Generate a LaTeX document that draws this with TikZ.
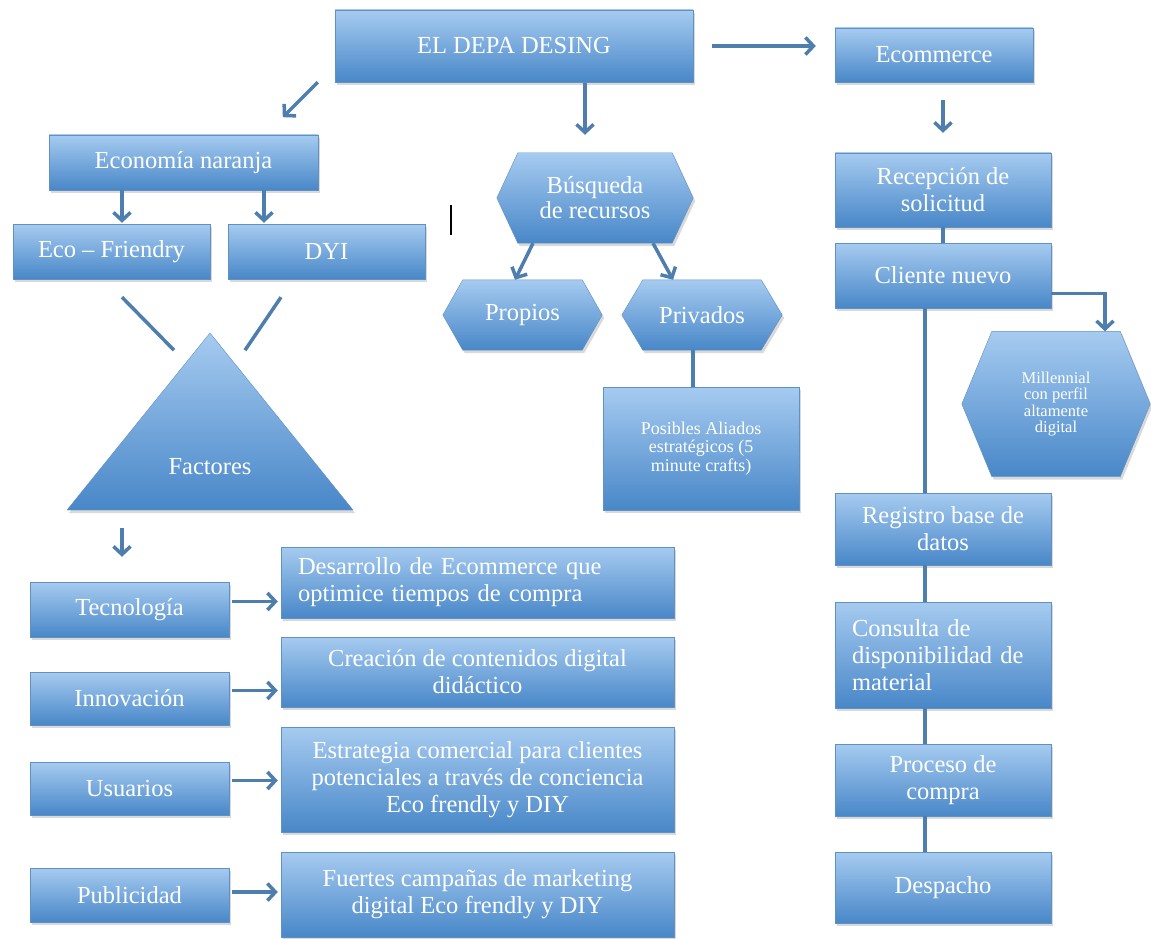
\documentclass[tikz,border=0pt]{standalone}
\usepackage{fontspec}
\setmainfont{Liberation Serif}
\usetikzlibrary{calc}
\usetikzlibrary{positioning}
\usetikzlibrary{arrows.meta}
\usetikzlibrary{backgrounds}
\usetikzlibrary{shadows}
\definecolor{cajaarriba}{RGB}{166,203,240}
\definecolor{cajaabajo}{RGB}{72,135,200}
\definecolor{borde}{RGB}{95,145,195}
\definecolor{flecha}{RGB}{78,126,174}

\begin{document}
\begin{tikzpicture}
  [
  x=1pt, y=-1pt,
  % 文字の設定
  every node/.style={text=white, inner sep=0, font=\fontsize{24.5}{27}\selectfont},
  % 矢印の設定
  arrow/.style={-{Straight Barb[length=8pt, width=17pt]}, line width=3.5pt, draw=flecha},
  % 矢印なしの線
  line/.style={line width=3.5pt, draw=flecha},
  % ブロック
  block/.style={rectangle, draw=borde, top color=cajaarriba, bottom color=cajaabajo,
  drop shadow={shadow xshift=2pt, shadow yshift=-3pt, opacity=0.3}},
  % 六角形（文字だけ，形は後で描く）
  hexa/.style={rectangle},
  hexfill/.style={draw=borde, top color=cajaarriba, bottom color=cajaabajo,
  drop shadow={shadow xshift=2pt, shadow yshift=-3pt, opacity=0.3}},
  % 小さい文字
  small/.style={font=\fontsize{18}{18.5}\selectfont}
  ]
  \useasboundingbox (0,0) rectangle (1151,939);

  % 上の段
  \node [block, minimum width=358pt, minimum height=72pt] (depa) at (514,46) {EL DEPA DESING};
  \node [block, minimum width=198pt, minimum height=54pt] (ecom) at (934,55) {Ecommerce};
  \node [block, minimum width=269pt, minimum height=55pt] (econ) at (183.5,162.5) {Economía naranja};
  \node [block, minimum width=197pt, minimum height=55pt] (ecof) at (111.5,251.5) {Eco – Friendry};
  \node [block, minimum width=197pt, minimum height=55pt] (dyi) at (326.5,251.5) {DYI};

  % 中央
  \node [hexa, minimum width=196pt, minimum height=90pt, align=center,
  font=\fontsize{24.5}{25}\selectfont] (busq) at (595,198) {Búsqueda\\de recursos};
  \node [hexa, minimum width=159pt, minimum height=70pt] (prop) at (522.5,315) {Propios};
  \node [hexa, minimum width=160pt, minimum height=70pt] (priv) at (702,315) {Privados};
  \node [block, small, minimum width=196pt, minimum height=123pt, align=center] (posi) at (701,448.5)
  {Posibles Aliados\\estratégicos (5\\minute crafts)};

  % 右の列
  \node [block, minimum width=216pt, minimum height=74pt, align=center] (recep) at (943,190) {Recepción de\\solicitud};
  \node [block, minimum width=216pt, minimum height=65pt] (clien) at (943,275.5) {Cliente nuevo};
  \node [hexa, minimum width=188pt, minimum height=145pt, align=center,
  font=\fontsize{16.5}{16.5}\selectfont] (mill) at (1056,404) {Millennial\\con perfil\\altamente\\digital};
  \node [block, minimum width=216pt, minimum height=72pt, align=center] (regis) at (943,529) {Registro base de\\datos};
  \node [block, minimum width=216pt, minimum height=106pt, text width=182pt, align=left] (consu) at (943,655)
  {Consulta de\\disponibilidad de\\material};
  \node [block, minimum width=216pt, minimum height=72pt, align=center] (proc) at (943,780) {Proceso de\\compra};
  \node [block, minimum width=216pt, minimum height=71pt] (desp) at (943,887.5) {Despacho};

  % 六角形
  \begin{pgfonlayer}{background}
    \foreach \n/\s in {busq/21, prop/20, priv/21, mill/30}
    \path [hexfill] (\n.west) -- ([xshift=\s pt]\n.north west) -- ([xshift=-\s pt]\n.north east)
    -- (\n.east) -- ([xshift=-\s pt]\n.south east) -- ([xshift=\s pt]\n.south west) -- cycle;
  \end{pgfonlayer}

  % 三角形
  \path [hexfill] (210,333) -- (353,510) -- (67,510) -- cycle;
  \node (fact) at (210,467) {Factores};
  \coordinate (fbase) at (122,510);

  % 下の段
  \node [block, minimum width=199pt, minimum height=55pt] (tec) at (129.5,609.5) {Tecnología};
  \node [block, minimum width=199pt, minimum height=53pt] (inno) at (129.5,698.5) {Innovación};
  \node [block, minimum width=199pt, minimum height=53pt] (usu) at (129.5,788.5) {Usuarios};
  \node [block, minimum width=199pt, minimum height=54pt] (pub) at (129.5,895) {Publicidad};
  \node [block, minimum width=393pt, minimum height=71pt, text width=359pt, align=left] (desa) at (477.5,582.5)
  {Desarrollo de Ecommerce que\\optimice tiempos de compra};
  \node [block, minimum width=393pt, minimum height=70pt, align=center] (crea) at (477.5,672)
  {Creación de contenidos digital\\didáctico};
  \node [block, minimum width=393pt, minimum height=105pt, align=center] (estr) at (477.5,779.5)
  {Estrategia comercial para clientes\\potenciales a través de conciencia\\Eco frendly y DIY};
  \node [block, minimum width=393pt, minimum height=85pt, align=center] (fuer) at (477.5,894.5)
  {Fuertes campañas de marketing\\digital Eco frendly y DIY};

  % 矢印
  \coordinate (dflecha) at (585,0);
  \draw [arrow, shorten <=19pt, shorten >=19pt] (depa.east) -- (depa.east -| ecom.west);
  \draw [arrow] ($(depa.south west)+(-17,0)$) -- +(-35,35);
  \draw [arrow, shorten <=1pt, shorten >=18pt] (depa.south -| dflecha) -- (dflecha |- busq.north);
  \draw [arrow, shorten >=1pt] ([xshift=-61.5pt]econ.south) -- ([xshift=-61.5pt]econ.south |- ecof.north);
  \draw [arrow, shorten >=1pt] ([xshift=80.5pt]econ.south) -- ([xshift=80.5pt]econ.south |- dyi.north);
  \draw [line] ($(ecof.south)+(10.5,18)$) -- +(52,53);
  \draw [line] ($(dyi.south)+(-45.5,18)$) -- +(-36,53);
  \draw [arrow] ([xshift=-62pt]busq.south) -- ([xshift=-80pt]busq.south |- prop.north);
  \draw [arrow] ([xshift=58pt]busq.south) -- ([xshift=78pt]busq.south |- priv.north);
  \draw [line] ([xshift=-9pt]priv.south) -- ([xshift=-9pt]priv.south |- posi.north);
  \draw [arrow, shorten <=18pt, shorten >=20pt] (recep.north |- ecom.south) -- (recep.north);
  \draw [line] (recep.south) -- (clien.north);
  \draw [arrow] ([yshift=-18pt]clien.east) -| ([xshift=49pt]mill.north);
  \draw [line] ([xshift=-18pt]clien.south) -- ([xshift=-18pt]regis.north);
  \draw [line] ([xshift=-18pt]regis.south) -- ([xshift=-18pt]consu.north);
  \draw [line] ([xshift=-18pt]consu.south) -- ([xshift=-18pt]proc.north);
  \draw [line] ([xshift=-18pt]proc.south) -- ([xshift=-18pt]desp.north);
  \draw [arrow, shorten <=18pt, shorten >=25pt] (fbase) -- (fbase |- tec.north);
  \draw [arrow, shorten <=3pt, shorten >=3pt] ([yshift=8pt]tec.east) -- ([yshift=8pt]tec.east -| desa.west);
  \draw [arrow, shorten <=3pt, shorten >=3pt] ([yshift=8pt]inno.east) -- ([yshift=8pt]inno.east -| crea.west);
  \draw [arrow, shorten <=3pt, shorten >=3pt] ([yshift=8pt]usu.east) -- ([yshift=8pt]usu.east -| estr.west);
  \draw [arrow, shorten <=3pt, shorten >=3pt] ([yshift=3pt]pub.east) -- ([yshift=3pt]pub.east -| fuer.west);

  % カーソル
  \coordinate (cursor) at (451,205);
  \draw [line width=1.5pt, black] (cursor) -- +(0,30);
\end{tikzpicture}
\end{document}
